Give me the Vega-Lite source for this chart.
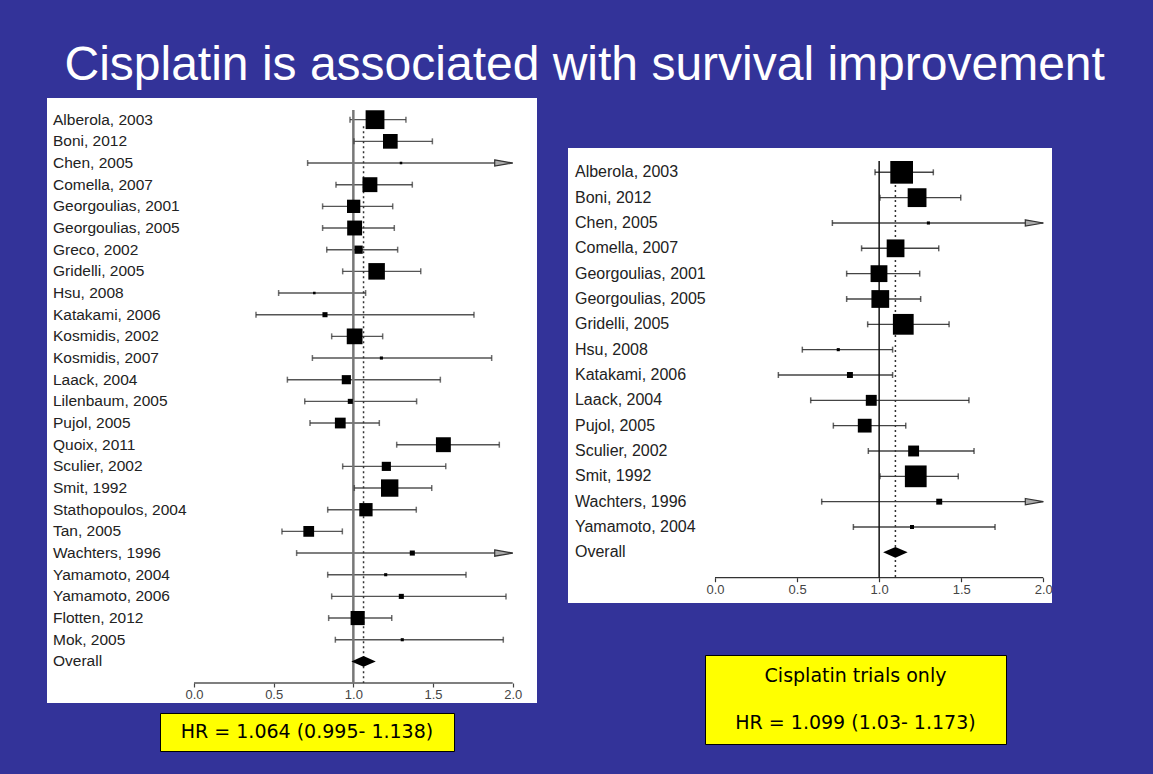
{
  "$schema": "https://vega.github.io/schema/vega-lite/v6.json",
  "background": "#333399",
  "padding": {"left": 47, "top": 42, "right": 50, "bottom": 24},
  "title": {
    "text": "Cisplatin is associated with survival improvement",
    "font": "Liberation Sans",
    "fontSize": 48,
    "fontWeight": "normal",
    "color": "#ffffff",
    "anchor": "middle",
    "dx": 35,
    "offset": 8
  },
  "config": {"view": {"stroke": null}},
  "datasets": {
    "left": [
      {"order": 1, "study": "Alberola, 2003", "hr": 1.136, "lo": 0.979, "hi": 1.330, "w": 11.0},
      {"order": 2, "study": "Boni, 2012", "hr": 1.232, "lo": 1.004, "hi": 1.496, "w": 6.7},
      {"order": 3, "study": "Chen, 2005", "hr": 1.299, "lo": 0.713, "hi": 2.0, "w": 0.2, "trunc": true},
      {"order": 4, "study": "Comella, 2007", "hr": 1.104, "lo": 0.891, "hi": 1.370, "w": 6.9},
      {"order": 5, "study": "Georgoulias, 2001", "hr": 1.002, "lo": 0.807, "hi": 1.247, "w": 5.5},
      {"order": 6, "study": "Georgoulias, 2005", "hr": 1.008, "lo": 0.807, "hi": 1.257, "w": 6.9},
      {"order": 7, "study": "Greco, 2002", "hr": 1.033, "lo": 0.833, "hi": 1.278, "w": 2.1},
      {"order": 8, "study": "Gridelli, 2005", "hr": 1.146, "lo": 0.933, "hi": 1.423, "w": 8.5},
      {"order": 9, "study": "Hsu, 2008", "hr": 0.755, "lo": 0.531, "hi": 1.077, "w": 0.2},
      {"order": 10, "study": "Katakami, 2006", "hr": 0.822, "lo": 0.389, "hi": 1.757, "w": 0.8},
      {"order": 11, "study": "Kosmidis, 2002", "hr": 1.008, "lo": 0.864, "hi": 1.184, "w": 7.7},
      {"order": 12, "study": "Kosmidis, 2007", "hr": 1.176, "lo": 0.743, "hi": 1.868, "w": 0.3},
      {"order": 13, "study": "Laack, 2004", "hr": 0.956, "lo": 0.586, "hi": 1.546, "w": 2.6},
      {"order": 14, "study": "Lilenbaum, 2005", "hr": 0.981, "lo": 0.695, "hi": 1.397, "w": 0.8},
      {"order": 15, "study": "Pujol, 2005", "hr": 0.918, "lo": 0.728, "hi": 1.163, "w": 3.6},
      {"order": 16, "study": "Quoix, 2011", "hr": 1.565, "lo": 1.272, "hi": 1.916, "w": 6.9},
      {"order": 17, "study": "Sculier, 2002", "hr": 1.207, "lo": 0.933, "hi": 1.580, "w": 2.6},
      {"order": 18, "study": "Smit, 1992", "hr": 1.228, "lo": 1.006, "hi": 1.492, "w": 9.4},
      {"order": 19, "study": "Stathopoulos, 2004", "hr": 1.079, "lo": 0.839, "hi": 1.395, "w": 5.5},
      {"order": 20, "study": "Tan, 2005", "hr": 0.720, "lo": 0.552, "hi": 0.931, "w": 3.6},
      {"order": 21, "study": "Wachters, 1996", "hr": 1.370, "lo": 0.644, "hi": 2.0, "w": 0.8, "trunc": true},
      {"order": 22, "study": "Yamamoto, 2004", "hr": 1.203, "lo": 0.839, "hi": 1.707, "w": 0.3},
      {"order": 23, "study": "Yamamoto, 2006", "hr": 1.301, "lo": 0.864, "hi": 1.958, "w": 0.8},
      {"order": 24, "study": "Flotten, 2012", "hr": 1.027, "lo": 0.845, "hi": 1.241, "w": 6.2},
      {"order": 25, "study": "Mok, 2005", "hr": 1.307, "lo": 0.887, "hi": 1.941, "w": 0.3},
      {"order": 26, "study": "Overall", "hr": 1.064, "lo": 0.995, "hi": 1.138}
    ],
    "right": [
      {"order": 1, "study": "Alberola, 2003", "hr": 1.137, "lo": 0.975, "hi": 1.330, "w": 16.0},
      {"order": 2, "study": "Boni, 2012", "hr": 1.231, "lo": 1.005, "hi": 1.497, "w": 11.0},
      {"order": 3, "study": "Chen, 2005", "hr": 1.300, "lo": 0.715, "hi": 2.0, "w": 0.3, "trunc": true},
      {"order": 4, "study": "Comella, 2007", "hr": 1.100, "lo": 0.893, "hi": 1.363, "w": 9.8},
      {"order": 5, "study": "Georgoulias, 2001", "hr": 0.999, "lo": 0.802, "hi": 1.247, "w": 8.8},
      {"order": 6, "study": "Georgoulias, 2005", "hr": 1.007, "lo": 0.802, "hi": 1.253, "w": 9.8},
      {"order": 7, "study": "Gridelli, 2005", "hr": 1.147, "lo": 0.930, "hi": 1.426, "w": 13.4},
      {"order": 8, "study": "Hsu, 2008", "hr": 0.751, "lo": 0.532, "hi": 1.082, "w": 0.3},
      {"order": 9, "study": "Katakami, 2006", "hr": 0.822, "lo": 0.386, "hi": 1.082, "w": 1.1},
      {"order": 10, "study": "Laack, 2004", "hr": 0.952, "lo": 0.583, "hi": 1.547, "w": 3.7},
      {"order": 11, "study": "Pujol, 2005", "hr": 0.912, "lo": 0.721, "hi": 1.162, "w": 5.9},
      {"order": 12, "study": "Sculier, 2002", "hr": 1.210, "lo": 0.934, "hi": 1.578, "w": 3.7},
      {"order": 13, "study": "Smit, 1992", "hr": 1.223, "lo": 1.005, "hi": 1.482, "w": 14.7},
      {"order": 14, "study": "Wachters, 1996", "hr": 1.366, "lo": 0.650, "hi": 2.0, "w": 1.1, "trunc": true},
      {"order": 15, "study": "Yamamoto, 2004", "hr": 1.200, "lo": 0.843, "hi": 1.706, "w": 0.5},
      {"order": 16, "study": "Overall", "hr": 1.099, "lo": 1.03, "hi": 1.173}
    ],
    "boxL": [{"line": 1, "label": "HR = 1.064  (0.995- 1.138)"}],
    "boxR": [
      {"line": 1, "label": "Cisplatin trials only"},
      {"line": 2, "label": "HR = 1.099 (1.03- 1.173)"}
    ],
    "blank": [{"t": ""}]
  },
  "spacing": 31,
  "hconcat": [
    {
      "spacing": 9,
      "vconcat": [
        {
          "width": 490,
          "height": 605,
          "view": {"fill": "#ffffff", "stroke": null},
          "data": {"name": "left"},
          "layer": [
            {
              "transform": [{"filter": "datum.study !== 'Overall'"}],
              "mark": {"type": "rule", "color": "#555555", "strokeWidth": 1.4},
              "encoding": {
                "x": {"field": "lo", "type": "quantitative",
                  "scale": {"domain": [-0.9225, 2.1525], "nice": false, "zero": false},
                  "axis": {"values": [0, 0.5, 1, 1.5, 2], "format": ".1f", "title": null, "domain": false, "grid": false,
                    "ticks": true, "tickSize": 4, "tickWidth": 1.2, "tickColor": "#444444",
                    "labelFont": "Liberation Sans", "labelFontSize": 13, "labelColor": "#444444", "labelPadding": 1,
                    "labelFlush": false, "labelOverlap": false, "offset": -20}},
                "x2": {"field": "hi"},
                "y": {"field": "order", "type": "quantitative",
                  "scale": {"domain": [0, 27.92], "reverse": true, "nice": false, "zero": false}, "axis": null}
              }
            },
            {
              "transform": [{"filter": "datum.study === 'Overall'"}],
              "mark": {"type": "rule", "color": "#555555", "strokeWidth": 1.5},
              "encoding": {
                "x": {"datum": 0, "type": "quantitative"},
                "x2": {"datum": 2},
                "y": {"datum": 27, "type": "quantitative", "axis": null}
              }
            },
            {
              "transform": [{"filter": "datum.study === 'Overall'"}],
              "mark": {"type": "rule", "color": "#777777", "strokeWidth": 2.5},
              "encoding": {
                "x": {"datum": 1, "type": "quantitative"},
                "y": {"datum": 0.55, "type": "quantitative", "axis": null},
                "y2": {"datum": 27}
              }
            },
            {
              "transform": [{"filter": "datum.study === 'Overall'"}],
              "mark": {"type": "rule", "color": "#333333", "strokeWidth": 1.5, "strokeDash": [2, 3]},
              "encoding": {
                "x": {"field": "hr", "type": "quantitative"},
                "y": {"datum": 1.3, "type": "quantitative", "axis": null},
                "y2": {"datum": 27}
              }
            },
            {
              "transform": [{"filter": "datum.study !== 'Overall'"}],
              "mark": {"type": "tick", "orient": "vertical", "color": "#333333", "size": 6, "thickness": 1.5},
              "encoding": {
                "x": {"field": "lo", "type": "quantitative"},
                "y": {"field": "order", "type": "quantitative", "axis": null}
              }
            },
            {
              "transform": [{"filter": "datum.study !== 'Overall' && !datum.trunc"}],
              "mark": {"type": "tick", "orient": "vertical", "color": "#333333", "size": 6, "thickness": 1.5},
              "encoding": {
                "x": {"field": "hi", "type": "quantitative"},
                "y": {"field": "order", "type": "quantitative", "axis": null}
              }
            },
            {
              "transform": [{"filter": "datum.trunc"}],
              "mark": {"type": "point", "shape": "M-1,-0.35L1,0L-1,0.35Z", "size": 324, "filled": true,
                "fill": "#aaaaaa", "stroke": "#333333", "strokeWidth": 1.2, "opacity": 1, "xOffset": -9},
              "encoding": {
                "x": {"field": "hi", "type": "quantitative"},
                "y": {"field": "order", "type": "quantitative", "axis": null}
              }
            },
            {
              "transform": [{"filter": "datum.study !== 'Overall'"}],
              "mark": {"type": "point", "shape": "square", "filled": true, "color": "#000000", "opacity": 1},
              "encoding": {
                "x": {"field": "hr", "type": "quantitative"},
                "y": {"field": "order", "type": "quantitative", "axis": null},
                "size": {"field": "w", "type": "quantitative", "scale": {"domain": [0, 11], "range": [0, 515]}, "legend": null}
              }
            },
            {
              "transform": [{"filter": "datum.study === 'Overall'"}],
              "mark": {"type": "point", "shape": "M-1,0L0,-0.44L1,0L0,0.44Z", "size": 600, "filled": true, "color": "#000000", "opacity": 1},
              "encoding": {
                "x": {"field": "hr", "type": "quantitative"},
                "y": {"field": "order", "type": "quantitative", "axis": null}
              }
            },
            {
              "mark": {"type": "text", "align": "left", "baseline": "middle", "font": "Liberation Sans", "fontSize": 15.5, "color": "#222222"},
              "encoding": {
                "x": {"datum": -0.885, "type": "quantitative"},
                "y": {"field": "order", "type": "quantitative", "axis": null},
                "text": {"field": "study"}
              }
            }
          ]
        },
        {
          "spacing": 0,
          "hconcat": [
            {
              "width": 112, "height": 38,
              "data": {"name": "blank"},
              "mark": {"type": "text"},
              "encoding": {"text": {"field": "t"}}
            },
            {
              "width": 294, "height": 38,
              "view": {"fill": "#ffff00", "stroke": "#000000", "strokeWidth": 1},
              "data": {"name": "boxL"},
              "mark": {"type": "text", "font": "DejaVu Sans", "fontSize": 19, "color": "#000000", "align": "center", "baseline": "middle"},
              "encoding": {"text": {"field": "label"}}
            }
          ]
        }
      ]
    },
    {
      "spacing": 10,
      "vconcat": [
        {
          "width": 10, "height": 40,
          "data": {"name": "blank"},
          "mark": {"type": "text"},
          "encoding": {"text": {"field": "t"}}
        },
        {
          "spacing": 51,
          "vconcat": [
            {
              "width": 484,
              "height": 455,
              "view": {"fill": "#ffffff", "stroke": null},
              "data": {"name": "right"},
              "layer": [
                {
                  "transform": [{"filter": "datum.study !== 'Overall'"}],
                  "mark": {"type": "rule", "color": "#444444", "strokeWidth": 1.4},
                  "encoding": {
                    "x": {"field": "lo", "type": "quantitative",
                      "scale": {"domain": [-0.8955, 2.053], "nice": false, "zero": false},
                      "axis": {"values": [0, 0.5, 1, 1.5, 2], "format": ".1f", "title": null, "domain": false, "grid": false,
                        "ticks": true, "tickSize": 4, "tickWidth": 1.2, "tickColor": "#333333",
                        "labelFont": "Liberation Sans", "labelFontSize": 13, "labelColor": "#444444", "labelPadding": 2,
                        "labelFlush": false, "labelOverlap": false, "offset": -25.3}},
                    "x2": {"field": "hi"},
                    "y": {"field": "order", "type": "quantitative",
                      "scale": {"domain": [0.04, 18], "reverse": true, "nice": false, "zero": false}, "axis": null}
                  }
                },
                {
                  "transform": [{"filter": "datum.study === 'Overall'"}],
                  "mark": {"type": "rule", "color": "#333333", "strokeWidth": 1.2},
                  "encoding": {
                    "x": {"datum": 0, "type": "quantitative"},
                    "x2": {"datum": 2},
                    "y": {"datum": 17, "type": "quantitative", "axis": null}
                  }
                },
                {
                  "transform": [{"filter": "datum.study === 'Overall'"}],
                  "mark": {"type": "rule", "color": "#111111", "strokeWidth": 1.5},
                  "encoding": {
                    "x": {"datum": 1, "type": "quantitative"},
                    "y": {"datum": 0.55, "type": "quantitative", "axis": null},
                    "y2": {"datum": 17}
                  }
                },
                {
                  "transform": [{"filter": "datum.study === 'Overall'"}],
                  "mark": {"type": "rule", "color": "#333333", "strokeWidth": 1.5, "strokeDash": [2, 3]},
                  "encoding": {
                    "x": {"field": "hr", "type": "quantitative"},
                    "y": {"datum": 1.5, "type": "quantitative", "axis": null},
                    "y2": {"datum": 17}
                  }
                },
                {
                  "transform": [{"filter": "datum.study !== 'Overall'"}],
                  "mark": {"type": "tick", "orient": "vertical", "color": "#222222", "size": 6, "thickness": 1.5},
                  "encoding": {
                    "x": {"field": "lo", "type": "quantitative"},
                    "y": {"field": "order", "type": "quantitative", "axis": null}
                  }
                },
                {
                  "transform": [{"filter": "datum.study !== 'Overall' && !datum.trunc"}],
                  "mark": {"type": "tick", "orient": "vertical", "color": "#222222", "size": 6, "thickness": 1.5},
                  "encoding": {
                    "x": {"field": "hi", "type": "quantitative"},
                    "y": {"field": "order", "type": "quantitative", "axis": null}
                  }
                },
                {
                  "transform": [{"filter": "datum.trunc"}],
                  "mark": {"type": "point", "shape": "M-1,-0.35L1,0L-1,0.35Z", "size": 324, "filled": true,
                    "fill": "#aaaaaa", "stroke": "#333333", "strokeWidth": 1.2, "opacity": 1, "xOffset": -9},
                  "encoding": {
                    "x": {"field": "hi", "type": "quantitative"},
                    "y": {"field": "order", "type": "quantitative", "axis": null}
                  }
                },
                {
                  "transform": [{"filter": "datum.study !== 'Overall'"}],
                  "mark": {"type": "point", "shape": "square", "filled": true, "color": "#000000", "opacity": 1},
                  "encoding": {
                    "x": {"field": "hr", "type": "quantitative"},
                    "y": {"field": "order", "type": "quantitative", "axis": null},
                    "size": {"field": "w", "type": "quantitative", "scale": {"domain": [0, 16], "range": [0, 529]}, "legend": null}
                  }
                },
                {
                  "transform": [{"filter": "datum.study === 'Overall'"}],
                  "mark": {"type": "point", "shape": "M-1,0L0,-0.44L1,0L0,0.44Z", "size": 600, "filled": true, "color": "#000000", "opacity": 1},
                  "encoding": {
                    "x": {"field": "hr", "type": "quantitative"},
                    "y": {"field": "order", "type": "quantitative", "axis": null}
                  }
                },
                {
                  "mark": {"type": "text", "align": "left", "baseline": "middle", "font": "Liberation Sans", "fontSize": 16, "color": "#222222"},
                  "encoding": {
                    "x": {"datum": -0.853, "type": "quantitative"},
                    "y": {"field": "order", "type": "quantitative", "axis": null},
                    "text": {"field": "study"}
                  }
                }
              ]
            },
            {
              "spacing": 0,
              "hconcat": [
                {
                  "width": 136, "height": 89,
                  "data": {"name": "blank"},
                  "mark": {"type": "text"},
                  "encoding": {"text": {"field": "t"}}
                },
                {
                  "width": 301, "height": 89,
                  "view": {"fill": "#ffff00", "stroke": "#000000", "strokeWidth": 1},
                  "data": {"name": "boxR"},
                  "mark": {"type": "text", "font": "DejaVu Sans", "fontSize": 19, "color": "#000000", "align": "center", "baseline": "middle"},
                  "encoding": {
                    "text": {"field": "label"},
                    "y": {"field": "line", "type": "ordinal", "axis": null, "scale": {"type": "point", "padding": 0.45}}
                  }
                }
              ]
            }
          ]
        }
      ]
    }
  ]
}
